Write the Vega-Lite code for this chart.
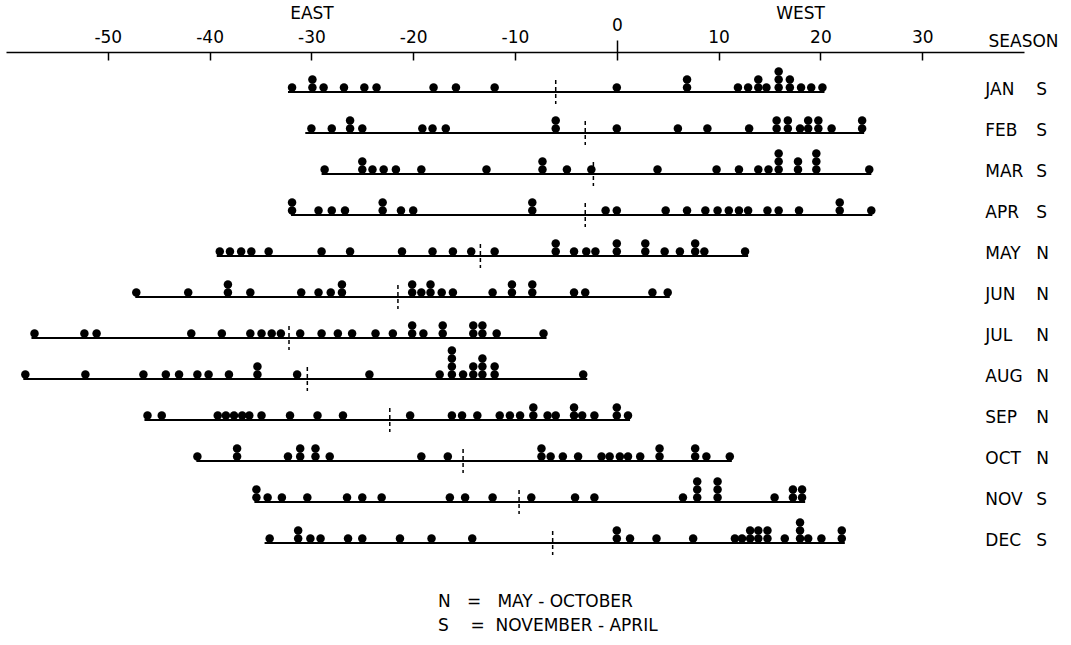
{
  "$schema": "https://vega.github.io/schema/vega-lite/v6.json",
  "width": 1018,
  "height": 526,
  "autosize": {"type": "none"},
  "padding": {"left": 6, "top": 52, "right": 47, "bottom": 67},
  "background": "white",
  "config": {
    "view": {"stroke": null},
    "font": "DejaVu Sans",
    "axis": {"domainColor": "black", "domainWidth": 1.5, "tickColor": "black", "tickWidth": 1.5, "labelColor": "black", "labelFontSize": 17, "labelFont": "DejaVu Sans", "grid": false, "titleColor": "black"}
  },
  "title": {
    "text": ["N\u00a0\u00a0\u00a0=\u00a0\u00a0\u00a0MAY - OCTOBER", "S\u00a0\u00a0\u00a0\u00a0=\u00a0\u00a0NOVEMBER - APRIL"],
    "orient": "bottom", "anchor": "middle", "align": "left", "dx": -77, "offset": 16,
    "fontSize": 17, "fontWeight": "normal", "lineHeight": 24, "font": "DejaVu Sans", "color": "black"
  },
  "datasets": {
    "rows": [
      {"month": "JAN", "season": "S", "start": -32.3, "end": 20.4, "mean": -6.0},
      {"month": "FEB", "season": "S", "start": -30.6, "end": 24.3, "mean": -3.1},
      {"month": "MAR", "season": "S", "start": -29.0, "end": 25.0, "mean": -2.3},
      {"month": "APR", "season": "S", "start": -32.0, "end": 25.1, "mean": -3.1},
      {"month": "MAY", "season": "N", "start": -39.3, "end": 12.9, "mean": -13.4},
      {"month": "JUN", "season": "N", "start": -47.3, "end": 5.2, "mean": -21.5},
      {"month": "JUL", "season": "N", "start": -57.5, "end": -6.9, "mean": -32.2},
      {"month": "AUG", "season": "N", "start": -58.3, "end": -2.9, "mean": -30.4},
      {"month": "SEP", "season": "N", "start": -46.4, "end": 1.3, "mean": -22.3},
      {"month": "OCT", "season": "N", "start": -41.3, "end": 11.3, "mean": -15.1},
      {"month": "NOV", "season": "S", "start": -35.6, "end": 18.5, "mean": -9.6},
      {"month": "DEC", "season": "S", "start": -34.6, "end": 22.4, "mean": -6.3}
    ],
    "dots": [
      {"month": "JAN", "v": -31.9, "k": 0}, {"month": "JAN", "v": -29.9, "k": 0}, {"month": "JAN", "v": -29.9, "k": 1},
      {"month": "JAN", "v": -28.8, "k": 0}, {"month": "JAN", "v": -26.8, "k": 0}, {"month": "JAN", "v": -24.8, "k": 0},
      {"month": "JAN", "v": -23.6, "k": 0}, {"month": "JAN", "v": -18.0, "k": 0}, {"month": "JAN", "v": -15.8, "k": 0},
      {"month": "JAN", "v": -12.0, "k": 0}, {"month": "JAN", "v": 0, "k": 0}, {"month": "JAN", "v": 6.9, "k": 0},
      {"month": "JAN", "v": 6.9, "k": 1}, {"month": "JAN", "v": 11.9, "k": 0}, {"month": "JAN", "v": 12.9, "k": 0},
      {"month": "JAN", "v": 13.9, "k": 0}, {"month": "JAN", "v": 13.9, "k": 1}, {"month": "JAN", "v": 14.7, "k": 0},
      {"month": "JAN", "v": 15.9, "k": 0}, {"month": "JAN", "v": 15.9, "k": 1}, {"month": "JAN", "v": 15.9, "k": 2},
      {"month": "JAN", "v": 17.0, "k": 0}, {"month": "JAN", "v": 17.0, "k": 1}, {"month": "JAN", "v": 18.1, "k": 0},
      {"month": "JAN", "v": 19.1, "k": 0}, {"month": "JAN", "v": 20.2, "k": 0},

      {"month": "FEB", "v": -30.0, "k": 0}, {"month": "FEB", "v": -28.0, "k": 0}, {"month": "FEB", "v": -26.2, "k": 0},
      {"month": "FEB", "v": -26.2, "k": 1}, {"month": "FEB", "v": -25.0, "k": 0}, {"month": "FEB", "v": -19.1, "k": 0},
      {"month": "FEB", "v": -18.1, "k": 0}, {"month": "FEB", "v": -16.8, "k": 0}, {"month": "FEB", "v": -6.0, "k": 0},
      {"month": "FEB", "v": -6.0, "k": 1}, {"month": "FEB", "v": 0, "k": 0}, {"month": "FEB", "v": 6.0, "k": 0},
      {"month": "FEB", "v": 8.9, "k": 0}, {"month": "FEB", "v": 13.0, "k": 0}, {"month": "FEB", "v": 15.7, "k": 0},
      {"month": "FEB", "v": 15.7, "k": 1}, {"month": "FEB", "v": 16.8, "k": 0}, {"month": "FEB", "v": 16.8, "k": 1},
      {"month": "FEB", "v": 18.0, "k": 0}, {"month": "FEB", "v": 18.8, "k": 0}, {"month": "FEB", "v": 18.8, "k": 1},
      {"month": "FEB", "v": 19.8, "k": 0}, {"month": "FEB", "v": 19.8, "k": 1}, {"month": "FEB", "v": 21.1, "k": 0},
      {"month": "FEB", "v": 24.1, "k": 0}, {"month": "FEB", "v": 24.1, "k": 1},

      {"month": "MAR", "v": -28.7, "k": 0}, {"month": "MAR", "v": -25.0, "k": 0}, {"month": "MAR", "v": -25.0, "k": 1},
      {"month": "MAR", "v": -24.0, "k": 0}, {"month": "MAR", "v": -22.9, "k": 0}, {"month": "MAR", "v": -21.7, "k": 0},
      {"month": "MAR", "v": -19.2, "k": 0}, {"month": "MAR", "v": -12.8, "k": 0}, {"month": "MAR", "v": -7.3, "k": 0},
      {"month": "MAR", "v": -7.3, "k": 1}, {"month": "MAR", "v": -4.9, "k": 0}, {"month": "MAR", "v": -2.5, "k": 0},
      {"month": "MAR", "v": 4.0, "k": 0}, {"month": "MAR", "v": 9.8, "k": 0}, {"month": "MAR", "v": 12.0, "k": 0},
      {"month": "MAR", "v": 13.9, "k": 0}, {"month": "MAR", "v": 14.9, "k": 0}, {"month": "MAR", "v": 15.9, "k": 0},
      {"month": "MAR", "v": 15.9, "k": 1}, {"month": "MAR", "v": 15.9, "k": 2}, {"month": "MAR", "v": 17.8, "k": 0},
      {"month": "MAR", "v": 17.8, "k": 1}, {"month": "MAR", "v": 19.6, "k": 0}, {"month": "MAR", "v": 19.6, "k": 1},
      {"month": "MAR", "v": 19.6, "k": 2}, {"month": "MAR", "v": 24.8, "k": 0},

      {"month": "APR", "v": -31.9, "k": 0}, {"month": "APR", "v": -31.9, "k": 1}, {"month": "APR", "v": -29.3, "k": 0},
      {"month": "APR", "v": -28.0, "k": 0}, {"month": "APR", "v": -26.7, "k": 0}, {"month": "APR", "v": -23.0, "k": 0},
      {"month": "APR", "v": -23.0, "k": 1}, {"month": "APR", "v": -21.2, "k": 0}, {"month": "APR", "v": -20.0, "k": 0},
      {"month": "APR", "v": -8.3, "k": 0}, {"month": "APR", "v": -8.3, "k": 1}, {"month": "APR", "v": -1.1, "k": 0},
      {"month": "APR", "v": 0, "k": 0}, {"month": "APR", "v": 4.8, "k": 0}, {"month": "APR", "v": 6.9, "k": 0},
      {"month": "APR", "v": 8.7, "k": 0}, {"month": "APR", "v": 9.9, "k": 0}, {"month": "APR", "v": 11.0, "k": 0},
      {"month": "APR", "v": 12.0, "k": 0}, {"month": "APR", "v": 12.9, "k": 0}, {"month": "APR", "v": 14.8, "k": 0},
      {"month": "APR", "v": 15.9, "k": 0}, {"month": "APR", "v": 17.9, "k": 0}, {"month": "APR", "v": 21.9, "k": 0},
      {"month": "APR", "v": 21.9, "k": 1}, {"month": "APR", "v": 25.0, "k": 0},

      {"month": "MAY", "v": -39.0, "k": 0}, {"month": "MAY", "v": -38.0, "k": 0}, {"month": "MAY", "v": -36.9, "k": 0},
      {"month": "MAY", "v": -35.9, "k": 0}, {"month": "MAY", "v": -34.2, "k": 0}, {"month": "MAY", "v": -29.0, "k": 0},
      {"month": "MAY", "v": -26.2, "k": 0}, {"month": "MAY", "v": -21.1, "k": 0}, {"month": "MAY", "v": -18.1, "k": 0},
      {"month": "MAY", "v": -16.1, "k": 0}, {"month": "MAY", "v": -14.3, "k": 0}, {"month": "MAY", "v": -12.0, "k": 0},
      {"month": "MAY", "v": -6.0, "k": 0}, {"month": "MAY", "v": -6.0, "k": 1}, {"month": "MAY", "v": -4.2, "k": 0},
      {"month": "MAY", "v": -3.0, "k": 0}, {"month": "MAY", "v": -2.1, "k": 0}, {"month": "MAY", "v": 0, "k": 0},
      {"month": "MAY", "v": 0, "k": 1}, {"month": "MAY", "v": 2.8, "k": 0}, {"month": "MAY", "v": 2.8, "k": 1},
      {"month": "MAY", "v": 4.7, "k": 0}, {"month": "MAY", "v": 6.2, "k": 0}, {"month": "MAY", "v": 7.7, "k": 0},
      {"month": "MAY", "v": 7.7, "k": 1}, {"month": "MAY", "v": 8.6, "k": 0}, {"month": "MAY", "v": 12.6, "k": 0},

      {"month": "JUN", "v": -47.2, "k": 0}, {"month": "JUN", "v": -42.1, "k": 0}, {"month": "JUN", "v": -38.2, "k": 0},
      {"month": "JUN", "v": -38.2, "k": 1}, {"month": "JUN", "v": -36.0, "k": 0}, {"month": "JUN", "v": -31.0, "k": 0},
      {"month": "JUN", "v": -29.3, "k": 0}, {"month": "JUN", "v": -28.1, "k": 0}, {"month": "JUN", "v": -27.0, "k": 0},
      {"month": "JUN", "v": -27.0, "k": 1}, {"month": "JUN", "v": -20.1, "k": 0}, {"month": "JUN", "v": -20.1, "k": 1},
      {"month": "JUN", "v": -19.2, "k": 0}, {"month": "JUN", "v": -18.3, "k": 0}, {"month": "JUN", "v": -18.3, "k": 1},
      {"month": "JUN", "v": -17.2, "k": 0}, {"month": "JUN", "v": -16.1, "k": 0}, {"month": "JUN", "v": -12.2, "k": 0},
      {"month": "JUN", "v": -10.3, "k": 0}, {"month": "JUN", "v": -10.3, "k": 1}, {"month": "JUN", "v": -8.3, "k": 0},
      {"month": "JUN", "v": -8.3, "k": 1}, {"month": "JUN", "v": -4.2, "k": 0}, {"month": "JUN", "v": -3.1, "k": 0},
      {"month": "JUN", "v": 3.5, "k": 0}, {"month": "JUN", "v": 5.0, "k": 0},

      {"month": "JUL", "v": -57.2, "k": 0}, {"month": "JUL", "v": -52.3, "k": 0}, {"month": "JUL", "v": -51.1, "k": 0},
      {"month": "JUL", "v": -41.8, "k": 0}, {"month": "JUL", "v": -38.8, "k": 0}, {"month": "JUL", "v": -36.0, "k": 0},
      {"month": "JUL", "v": -34.9, "k": 0}, {"month": "JUL", "v": -33.9, "k": 0}, {"month": "JUL", "v": -33.0, "k": 0},
      {"month": "JUL", "v": -31.1, "k": 0}, {"month": "JUL", "v": -29.0, "k": 0}, {"month": "JUL", "v": -27.4, "k": 0},
      {"month": "JUL", "v": -26.0, "k": 0}, {"month": "JUL", "v": -23.7, "k": 0}, {"month": "JUL", "v": -22.0, "k": 0},
      {"month": "JUL", "v": -20.1, "k": 0}, {"month": "JUL", "v": -20.1, "k": 1}, {"month": "JUL", "v": -19.0, "k": 0},
      {"month": "JUL", "v": -17.1, "k": 0}, {"month": "JUL", "v": -17.1, "k": 1}, {"month": "JUL", "v": -14.1, "k": 0},
      {"month": "JUL", "v": -14.1, "k": 1}, {"month": "JUL", "v": -13.2, "k": 0}, {"month": "JUL", "v": -13.2, "k": 1},
      {"month": "JUL", "v": -11.8, "k": 0}, {"month": "JUL", "v": -7.2, "k": 0},

      {"month": "AUG", "v": -58.1, "k": 0}, {"month": "AUG", "v": -52.2, "k": 0}, {"month": "AUG", "v": -46.5, "k": 0},
      {"month": "AUG", "v": -44.3, "k": 0}, {"month": "AUG", "v": -43.0, "k": 0}, {"month": "AUG", "v": -41.2, "k": 0},
      {"month": "AUG", "v": -40.1, "k": 0}, {"month": "AUG", "v": -38.1, "k": 0}, {"month": "AUG", "v": -35.3, "k": 0},
      {"month": "AUG", "v": -35.3, "k": 1}, {"month": "AUG", "v": -31.4, "k": 0}, {"month": "AUG", "v": -24.3, "k": 0},
      {"month": "AUG", "v": -17.4, "k": 0}, {"month": "AUG", "v": -16.2, "k": 0}, {"month": "AUG", "v": -16.2, "k": 1},
      {"month": "AUG", "v": -16.2, "k": 2}, {"month": "AUG", "v": -16.2, "k": 3}, {"month": "AUG", "v": -15.1, "k": 0},
      {"month": "AUG", "v": -14.1, "k": 0}, {"month": "AUG", "v": -14.1, "k": 1}, {"month": "AUG", "v": -13.2, "k": 0},
      {"month": "AUG", "v": -13.2, "k": 1}, {"month": "AUG", "v": -13.2, "k": 2}, {"month": "AUG", "v": -12.0, "k": 0},
      {"month": "AUG", "v": -12.0, "k": 1}, {"month": "AUG", "v": -3.3, "k": 0},

      {"month": "SEP", "v": -46.1, "k": 0}, {"month": "SEP", "v": -44.7, "k": 0}, {"month": "SEP", "v": -39.2, "k": 0},
      {"month": "SEP", "v": -38.4, "k": 0}, {"month": "SEP", "v": -37.6, "k": 0}, {"month": "SEP", "v": -36.8, "k": 0},
      {"month": "SEP", "v": -36.1, "k": 0}, {"month": "SEP", "v": -34.9, "k": 0}, {"month": "SEP", "v": -32.1, "k": 0},
      {"month": "SEP", "v": -29.4, "k": 0}, {"month": "SEP", "v": -26.9, "k": 0}, {"month": "SEP", "v": -20.3, "k": 0},
      {"month": "SEP", "v": -16.2, "k": 0}, {"month": "SEP", "v": -15.2, "k": 0}, {"month": "SEP", "v": -13.7, "k": 0},
      {"month": "SEP", "v": -11.5, "k": 0}, {"month": "SEP", "v": -10.5, "k": 0}, {"month": "SEP", "v": -9.5, "k": 0},
      {"month": "SEP", "v": -8.2, "k": 0}, {"month": "SEP", "v": -8.2, "k": 1}, {"month": "SEP", "v": -6.8, "k": 0},
      {"month": "SEP", "v": -6.0, "k": 0}, {"month": "SEP", "v": -4.2, "k": 0}, {"month": "SEP", "v": -4.2, "k": 1},
      {"month": "SEP", "v": -3.4, "k": 0}, {"month": "SEP", "v": -2.2, "k": 0}, {"month": "SEP", "v": 0, "k": 0},
      {"month": "SEP", "v": 0, "k": 1}, {"month": "SEP", "v": 1.1, "k": 0},

      {"month": "OCT", "v": -41.2, "k": 0}, {"month": "OCT", "v": -37.3, "k": 0}, {"month": "OCT", "v": -37.3, "k": 1},
      {"month": "OCT", "v": -32.3, "k": 0}, {"month": "OCT", "v": -31.1, "k": 0}, {"month": "OCT", "v": -31.1, "k": 1},
      {"month": "OCT", "v": -29.6, "k": 0}, {"month": "OCT", "v": -29.6, "k": 1}, {"month": "OCT", "v": -28.2, "k": 0},
      {"month": "OCT", "v": -19.2, "k": 0}, {"month": "OCT", "v": -16.6, "k": 0}, {"month": "OCT", "v": -7.4, "k": 0},
      {"month": "OCT", "v": -7.4, "k": 1}, {"month": "OCT", "v": -6.5, "k": 0}, {"month": "OCT", "v": -5.3, "k": 0},
      {"month": "OCT", "v": -3.8, "k": 0}, {"month": "OCT", "v": -1.5, "k": 0}, {"month": "OCT", "v": -0.7, "k": 0},
      {"month": "OCT", "v": 0.3, "k": 0}, {"month": "OCT", "v": 1.1, "k": 0}, {"month": "OCT", "v": 2.3, "k": 0},
      {"month": "OCT", "v": 4.2, "k": 0}, {"month": "OCT", "v": 4.2, "k": 1}, {"month": "OCT", "v": 7.7, "k": 0},
      {"month": "OCT", "v": 7.7, "k": 1}, {"month": "OCT", "v": 8.8, "k": 0}, {"month": "OCT", "v": 11.1, "k": 0},

      {"month": "NOV", "v": -35.4, "k": 0}, {"month": "NOV", "v": -35.4, "k": 1}, {"month": "NOV", "v": -34.3, "k": 0},
      {"month": "NOV", "v": -32.9, "k": 0}, {"month": "NOV", "v": -30.4, "k": 0}, {"month": "NOV", "v": -26.5, "k": 0},
      {"month": "NOV", "v": -25.0, "k": 0}, {"month": "NOV", "v": -23.1, "k": 0}, {"month": "NOV", "v": -16.4, "k": 0},
      {"month": "NOV", "v": -14.9, "k": 0}, {"month": "NOV", "v": -12.2, "k": 0}, {"month": "NOV", "v": -8.4, "k": 0},
      {"month": "NOV", "v": -4.1, "k": 0}, {"month": "NOV", "v": -2.2, "k": 0}, {"month": "NOV", "v": 6.5, "k": 0},
      {"month": "NOV", "v": 7.9, "k": 0}, {"month": "NOV", "v": 7.9, "k": 1}, {"month": "NOV", "v": 7.9, "k": 2},
      {"month": "NOV", "v": 9.9, "k": 0}, {"month": "NOV", "v": 9.9, "k": 1}, {"month": "NOV", "v": 9.9, "k": 2},
      {"month": "NOV", "v": 15.5, "k": 0}, {"month": "NOV", "v": 17.3, "k": 0}, {"month": "NOV", "v": 17.3, "k": 1},
      {"month": "NOV", "v": 18.2, "k": 0}, {"month": "NOV", "v": 18.2, "k": 1},

      {"month": "DEC", "v": -34.1, "k": 0}, {"month": "DEC", "v": -31.3, "k": 0}, {"month": "DEC", "v": -31.3, "k": 1},
      {"month": "DEC", "v": -30.1, "k": 0}, {"month": "DEC", "v": -29.1, "k": 0}, {"month": "DEC", "v": -26.4, "k": 0},
      {"month": "DEC", "v": -25.0, "k": 0}, {"month": "DEC", "v": -21.3, "k": 0}, {"month": "DEC", "v": -18.2, "k": 0},
      {"month": "DEC", "v": -14.2, "k": 0}, {"month": "DEC", "v": 0, "k": 0}, {"month": "DEC", "v": 0, "k": 1},
      {"month": "DEC", "v": 1.3, "k": 0}, {"month": "DEC", "v": 3.9, "k": 0}, {"month": "DEC", "v": 7.5, "k": 0},
      {"month": "DEC", "v": 11.6, "k": 0}, {"month": "DEC", "v": 12.3, "k": 0}, {"month": "DEC", "v": 13.1, "k": 0},
      {"month": "DEC", "v": 13.1, "k": 1}, {"month": "DEC", "v": 13.9, "k": 0}, {"month": "DEC", "v": 13.9, "k": 1},
      {"month": "DEC", "v": 14.8, "k": 0}, {"month": "DEC", "v": 14.8, "k": 1}, {"month": "DEC", "v": 16.5, "k": 0},
      {"month": "DEC", "v": 18.0, "k": 0}, {"month": "DEC", "v": 18.0, "k": 1}, {"month": "DEC", "v": 18.0, "k": 2},
      {"month": "DEC", "v": 18.8, "k": 0}, {"month": "DEC", "v": 20.1, "k": 0}, {"month": "DEC", "v": 22.1, "k": 0},
      {"month": "DEC", "v": 22.1, "k": 1}
    ]
  },
  "layer": [
    {
      "data": {"name": "rows"},
      "mark": {"type": "rule", "color": "black", "strokeWidth": 1.8},
      "encoding": {
        "x": {"field": "start", "type": "quantitative",
              "scale": {"domain": [-60, 40], "nice": false, "zero": false},
              "axis": {"orient": "top", "values": [-50, -40, -30, -20, -10, 0, 10, 20, 30],
                       "labelExpr": "datum.value == 0 ? '' : '' + datum.value",
                       "tickSize": -8, "labelPadding": 14,
                       "title": "SEASON", "titleX": 982, "titleY": -2, "titleAlign": "left", "titleBaseline": "bottom",
                       "titleFontSize": 17, "titleFontWeight": "normal", "titleFont": "DejaVu Sans", "titleAnchor": null}},
        "x2": {"field": "end"},
        "y": {"field": "month", "type": "ordinal", "sort": ["JAN","FEB","MAR","APR","MAY","JUN","JUL","AUG","SEP","OCT","NOV","DEC"],
              "scale": {"type": "point", "range": [40, 491], "padding": 0}, "axis": null}
      }
    },
    {
      "data": {"name": "rows"},
      "mark": {"type": "rule", "color": "black", "strokeWidth": 1.5, "strokeDash": [4, 3], "yOffset": -12, "y2Offset": 12},
      "encoding": {
        "x": {"field": "mean", "type": "quantitative",
              "axis": {"orient": "top", "values": [0], "labelExpr": "'' + datum.value", "domain": false,
                       "ticks": true, "tickSize": 12, "labelPadding": 6, "title": null}},
        "y": {"field": "month", "type": "ordinal", "sort": ["JAN","FEB","MAR","APR","MAY","JUN","JUL","AUG","SEP","OCT","NOV","DEC"], "axis": null},
        "y2": {"field": "month"}
      }
    },
    {
      "mark": {"type": "rule", "color": "black", "strokeWidth": 1.5},
      "encoding": {
        "x": {"datum": 0, "type": "quantitative",
              "axis": {"orient": "top", "values": [-30, 18], "labelExpr": "datum.value < 0 ? 'EAST' : 'WEST'",
                       "domain": false, "ticks": false, "tickSize": 0, "labelPadding": 30, "title": null}}
      }
    },
    {
      "data": {"name": "dots"},
      "mark": {"type": "circle", "size": 72, "color": "black", "opacity": 1},
      "encoding": {
        "x": {"field": "v", "type": "quantitative", "axis": null},
        "y": {"field": "month", "type": "ordinal", "sort": ["JAN","FEB","MAR","APR","MAY","JUN","JUL","AUG","SEP","OCT","NOV","DEC"], "axis": null},
        "yOffset": {"field": "k", "type": "quantitative", "scale": {"domain": [0, 4], "range": [-4.5, -36.5]}}
      }
    },
    {
      "data": {"name": "rows"},
      "mark": {"type": "text", "align": "left", "baseline": "middle", "dy": -2, "fontSize": 17, "font": "DejaVu Sans", "color": "black"},
      "encoding": {
        "x": {"datum": 36.2, "type": "quantitative", "axis": null},
        "y": {"field": "month", "type": "ordinal", "sort": ["JAN","FEB","MAR","APR","MAY","JUN","JUL","AUG","SEP","OCT","NOV","DEC"], "axis": null},
        "text": {"field": "month"}
      }
    },
    {
      "data": {"name": "rows"},
      "mark": {"type": "text", "align": "left", "baseline": "middle", "dy": -2, "fontSize": 17, "font": "DejaVu Sans", "color": "black"},
      "encoding": {
        "x": {"datum": 41.2, "type": "quantitative", "axis": null},
        "y": {"field": "month", "type": "ordinal", "sort": ["JAN","FEB","MAR","APR","MAY","JUN","JUL","AUG","SEP","OCT","NOV","DEC"], "axis": null},
        "text": {"field": "season"}
      }
    }
  ],
  "resolve": {"axis": {"x": "independent"}}
}
